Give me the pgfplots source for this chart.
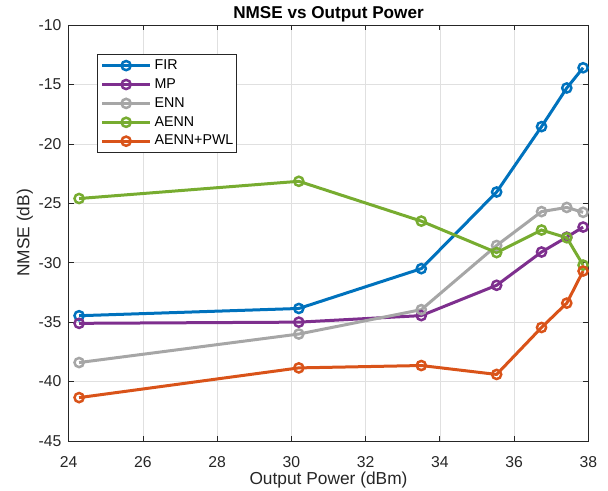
\documentclass[border=0pt]{standalone}
\usepackage{fontspec}
\setmainfont{Liberation Sans}
\usepackage{pgfplots}
\pgfplotsset{compat=1.18}
\definecolor{cFIR}{rgb}{0,0.447,0.741}
\definecolor{cMP}{rgb}{0.494,0.184,0.556}
\definecolor{cENN}{rgb}{0.65,0.65,0.65}
\definecolor{cAENN}{rgb}{0.466,0.674,0.188}
\definecolor{cPWL}{rgb}{0.85,0.325,0.098}
\definecolor{axgray}{rgb}{0.15,0.15,0.15}
\pgfplotsset{series/.style={#1, line width=3bp, mark=o, mark size=4.6bp, mark options={line width=2.5bp, solid}}}
\begin{document}
\begin{tikzpicture}
\begin{axis}[
  name=ax, at={(0,0)}, anchor=south west,
  scale only axis, width=519.6bp, height=416bp,
  xmin=24, xmax=38, ymin=-45, ymax=-10,
  xtick={24,26,...,38}, ytick={-45,-40,...,-10},
  grid=major, major grid style={line width=0.6bp, color=black!12},
  axis line style={line width=0.7bp, color=axgray},
  tick style={line width=0.7bp, color=axgray},
  tick align=inside, major tick length=5bp,
  /pgf/number format/assume math mode=true,
  ticklabel style={font=\fontsize{15.8}{18}\selectfont, text=axgray, inner sep=0pt},
  xticklabel style={anchor=base, yshift=-26bp},
  yticklabel style={anchor=east, xshift=-7bp},
  xlabel={Output Power (dBm)},
  xlabel style={font=\fontsize{17.4}{20}\selectfont, text=axgray, inner sep=0pt, at={(axis description cs:0.5,-0.1034)}, anchor=base},
  ylabel={NMSE (dB)},
  ylabel style={font=\fontsize{17.4}{20}\selectfont, text=axgray, inner sep=0pt, at={(axis description cs:-0.0841,0.5)}, anchor=center},
  legend cell align=left,
  legend image code/.code={\draw[mark repeat=2,mark phase=2,#1] plot coordinates {(0bp,0bp) (24bp,0bp) (48bp,0bp)};},
  legend style={at={(axis description cs:0.055,0.9303)}, anchor=north west,
    font=\fontsize{14.3}{17}\selectfont, draw=axgray, line width=0.7bp, fill=white,
    inner xsep=3bp, inner ysep=4.5bp, row sep=5.4bp, column sep=3bp,
    nodes={inner sep=0pt, text height=10.5bp, text depth=3bp, anchor=west}},
]
\addplot[series=cFIR] table {
x y
24.28 -34.46
30.20 -33.85
33.50 -30.50
35.53 -24.05
36.74 -18.55
37.42 -15.30
37.86 -13.60
};
\addlegendentry{FIR}
\addplot[series=cMP] table {
x y
24.28 -35.10
30.20 -35.00
33.50 -34.45
35.53 -31.90
36.74 -29.10
37.42 -27.85
37.86 -27.00
};
\addlegendentry{MP}
\addplot[series=cENN] table {
x y
24.28 -38.40
30.20 -36.00
33.50 -33.95
35.53 -28.55
36.74 -25.70
37.42 -25.35
37.86 -25.76
};
\addlegendentry{ENN}
\addplot[series=cAENN] table {
x y
24.28 -24.60
30.20 -23.15
33.50 -26.50
35.53 -29.15
36.74 -27.25
37.42 -27.90
37.86 -30.20
};
\addlegendentry{AENN}
\addplot[series=cPWL] table {
x y
24.28 -41.35
30.20 -38.85
33.50 -38.65
35.53 -39.40
36.74 -35.45
37.42 -33.40
37.86 -30.70
};
\addlegendentry{AENN+PWL}
\end{axis}
\node[anchor=base, inner sep=0pt, font=\fontsize{17.2}{20}\selectfont\bfseries] at (259.8bp,422.7bp) {NMSE vs Output Power};
\pgfresetboundingbox
\path (-68.7bp,-50bp) rectangle (539.3bp,441bp);
\end{tikzpicture}
\end{document}
